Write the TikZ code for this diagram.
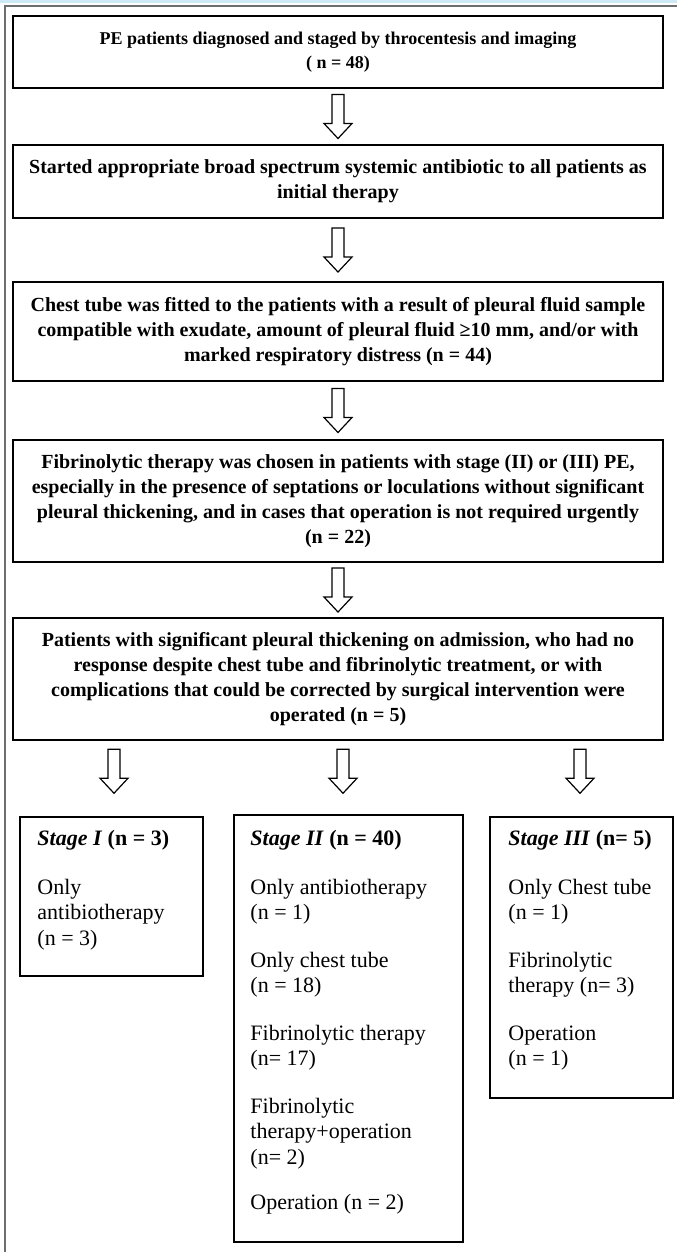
\documentclass[tikz,border=0pt]{standalone}
\usepackage{fontspec}
\setmainfont{Liberation Serif}
\usetikzlibrary{calc}
\definecolor{stripblue}{RGB}{205,233,246}
\definecolor{framegray}{RGB}{110,110,110}
\begin{document}
\begin{tikzpicture}[x=1pt,y=-1pt,
  topbox/.style={draw=black, line width=1.8pt, minimum width=650pt, inner sep=0pt, align=center, font=\bfseries\fontsize{20}{25}\selectfont},
  stagebox/.style={draw=black, line width=1.5pt, inner sep=0pt},
  stagetext/.style={anchor=north west, inner sep=0pt, align=left, font=\fontsize{22}{25.5}\selectfont},
  barrow/.style={draw=black, line width=1.2pt, fill=white, line join=miter},
  pics/downarrow/.style={code={\draw[barrow] (-6,-22) -- (6,-22) -- (6,7) -- (14,7) -- (0,22) -- (-14,7) -- (-6,7) -- cycle;}}
]
\useasboundingbox (0,0) rectangle (677,1252);
% outer frame
\fill[stripblue] (0,0) rectangle (677,3.5);
\draw[framegray, line width=1.5pt] (5,1252) -- (5,6) -- (677,6);

% main boxes
\node[topbox, minimum height=72pt, font=\bfseries\fontsize{18}{24}\selectfont] (b1) at (338,52)
  {PE patients diagnosed and staged by throcentesis and imaging\\( n = 48)};
\node[topbox, minimum height=73pt] (b2) at (338,181.5)
  {Started appropriate broad spectrum systemic antibiotic to all patients as\\initial therapy};
\node[topbox, minimum height=99pt] (b3) at (338,331.5)
  {Chest tube was fitted to the patients with a result of pleural fluid sample\\compatible with exudate, amount of pleural fluid ≥10 mm, and/or with\\marked respiratory distress (n = 44)};
\node[topbox, minimum height=122pt] (b4) at (338,501)
  {Fibrinolytic therapy was chosen in patients with stage (II) or (III) PE,\\especially in the presence of septations or loculations without significant\\pleural thickening, and in cases that operation is not required urgently\\(n = 22)};
\node[topbox, minimum height=122pt] (b5) at (338,679)
  {Patients with significant pleural thickening on admission, who had no\\response despite chest tube and fibrinolytic treatment, or with\\complications that could be corrected by surgical intervention were\\operated (n = 5)};

% stage boxes
\node[stagebox, minimum width=183pt, minimum height=159pt] (s1) at (111.5,896.5) {};
\node[stagebox, minimum width=229pt, minimum height=427pt] (s2) at (348.5,1028.5) {};
\node[stagebox, minimum width=183pt, minimum height=281pt] (s3) at (581.5,957.5) {};

\node[stagetext] (s1t) at ($(s1.north west)+(18,14)$)
  {\textbf{\textit{Stage I} (n = 3)}\\[23pt]
   Only\\antibiotherapy\\(n = 3)};
\node[stagetext] (s2t) at ($(s2.north west)+(17,16)$)
  {\textbf{\textit{Stage II} (n = 40)}\\[23pt]
   Only antibiotherapy\\(n = 1)\\[22pt]
   Only chest tube\\(n = 18)\\[22pt]
   Fibrinolytic therapy\\(n= 17)\\[22pt]
   Fibrinolytic\\therapy+operation\\(n= 2)\\[20pt]
   Operation (n = 2)};
\node[stagetext] (s3t) at ($(s3.north west)+(19,14)$)
  {\textbf{\textit{Stage III} (n= 5)}\\[23pt]
   Only Chest tube\\(n = 1)\\[22pt]
   Fibrinolytic\\therapy (n= 3)\\[22pt]
   Operation\\(n = 1)};

% block arrows between boxes
\path (b1.south) -- (b2.north) coordinate[midway] (m1);
\path (b2.south) -- (b3.north) coordinate[midway] (m2);
\path (b3.south) -- (b4.north) coordinate[midway] (m3);
\path (b4.south) -- (b5.north) coordinate[midway] (m4);
\pic at (m1) {downarrow};
\pic at (m2) {downarrow};
\pic at (m3) {downarrow};
\pic at (m4) {downarrow};
\coordinate (m5) at ($(s1.north)+(2.5,-45)$);
\coordinate (m6) at ($(s2.north)+(-5.5,-43)$);
\coordinate (m7) at ($(s3.north)+(-1.5,-45)$);
\pic at (m5) {downarrow};
\pic at (m6) {downarrow};
\pic at (m7) {downarrow};
\end{tikzpicture}
\end{document}
